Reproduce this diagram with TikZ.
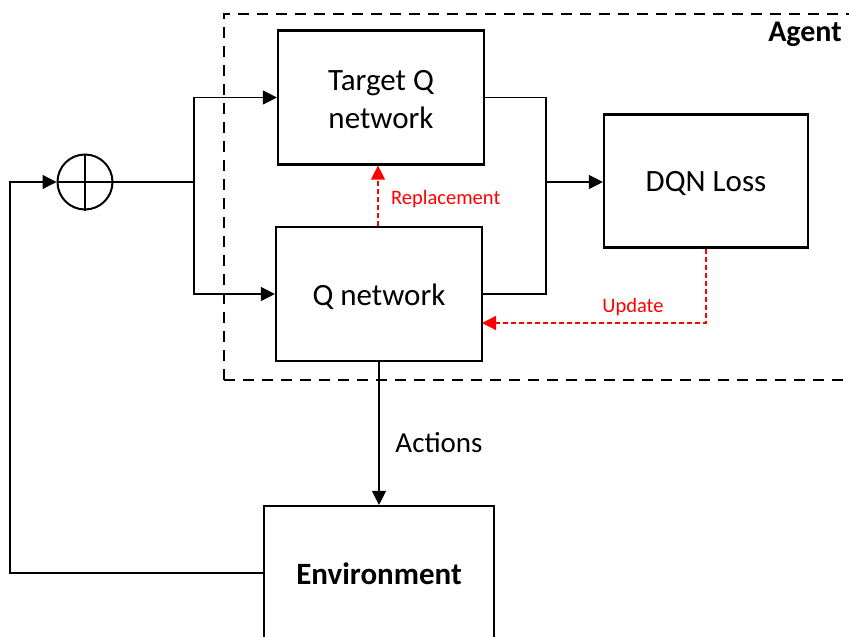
\documentclass[tikz,border=0pt]{standalone}
\usepackage{fontspec}
\setmainfont{Carlito}
\usetikzlibrary{arrows.meta,calc}
\begin{document}
\begin{tikzpicture}[x=1pt,y=-1pt,
  box/.style={draw,line width=2.2pt,minimum width=206pt,minimum height=134pt,inner sep=0pt},
  boxtext/.style={inner sep=0pt,align=center,font=\fontsize{31}{38}\selectfont},
  conn/.style={line width=1.3pt},
  arr/.style={conn,-{Triangle[length=14pt,width=14pt]}},
  upd/.style={line width=1.3pt,red,dash pattern=on 5pt off 3pt,-{Triangle[length=14pt,width=14pt]}},
  small/.style={text=red,font=\fontsize{20.5}{23}\selectfont,inner sep=0pt},
]
\clip (0,0) rectangle (849,637);
\fill[white] (0,0) rectangle (849,637);
% agent dashed box
\draw[line width=2.7pt,dash pattern=on 11pt off 8pt] (224,380) -- (224,14) -- (870,14);
\draw[line width=2.7pt,dash pattern=on 11pt off 8pt] (224,380) -- (870,380);
\node[font=\bfseries\fontsize{30}{32}\selectfont,inner sep=0pt] (agent) at (805,34) {Agent};

\node[box] (tq) at (381,97.5) {};
\node[box] (q) at (379,294) {};
\node[box,minimum width=204pt,minimum height=133pt] (loss) at (706,181) {};
\node[box,minimum width=230pt] (env) at (379,573) {};
\node[boxtext] (tqt) at ([yshift=-2pt]tq.center) {Target Q\\network};
\node[boxtext] (qt) at ([yshift=-3pt]q.center) {Q network};
\node[boxtext] (losst) at ([yshift=-2pt]loss.center) {DQN Loss};
\node[boxtext,font=\bfseries\fontsize{31}{38}\selectfont] (envt) at ([yshift=-1pt]env.center) {Environment};

\node[draw,circle,line width=2pt,minimum size=55pt,inner sep=0pt] (sum) at (85,182) {};
\draw[line width=2pt] (sum.north) -- (sum.south) (sum.west) -- (sum.east);

\coordinate (fb) at (10,182);
\coordinate (split) at (194,182);
\coordinate (join) at (546,182);
\coordinate (updcorner) at (706,323);
\coordinate (updend) at (482,323);

\draw[arr] (env.west) -| (fb) -- (sum.west);
\draw[conn] (sum.east) -- (split);
\draw[arr] (split) |- (tq.west);
\draw[arr] (split) |- (q.west);
\draw[conn] (tq.east) -| (join);
\draw[conn] (q.east) -| (join);
\draw[arr] (join) -- (join -| loss.west);

\draw[upd] (q.north -| 378,0) -- (tq.south -| 378,0);
\node[small,anchor=west] (repl) at (391,199) {Replacement};
\draw[upd] (loss.south) -- (updcorner) -- (updend);
\node[small] (updl) at (633,307) {Update};

\draw[arr] (q.south) -- (env.north);
\node[font=\fontsize{29}{32}\selectfont,inner sep=0pt] (act) at (439,443) {Actions};
\end{tikzpicture}
\end{document}
